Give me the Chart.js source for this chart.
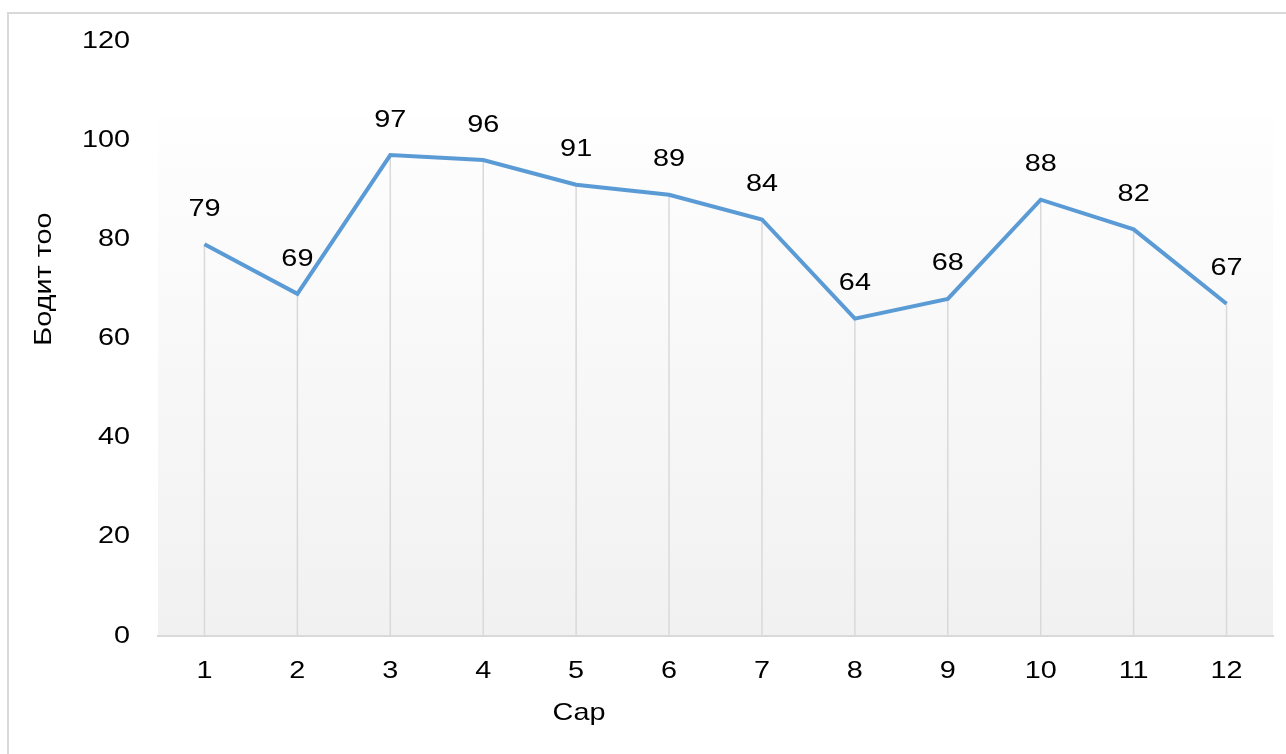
<!DOCTYPE html>
<html>
<head>
<meta charset="utf-8">
<script src="https://cdn.jsdelivr.net/npm/chart.js@4/dist/chart.umd.min.js"></script>
<style>
  html, body { margin: 0; padding: 0; background: #fff; overflow: hidden; }
  #frame { position: absolute; left: 7px; top: 12px; width: 1400px; height: 900px;
           border: 2px solid #d9d9d9; box-sizing: border-box; }
  canvas { position: absolute; left: 0; top: 0; }
</style>
</head>
<body>
<div id="frame"></div>
<canvas id="c" width="1286" height="754"></canvas>
<script>
const categories = ['1','2','3','4','5','6','7','8','9','10','11','12'];
const values = [79, 69, 97, 96, 91, 89, 84, 64, 68, 88, 82, 67];
const yTicks = [0, 20, 40, 60, 80, 100, 120];
const xTitle = 'Сар';
const yTitle = 'Бодит тоо';

const FONT = '"Liberation Sans", Arial, sans-serif';
const FS = 24;
const STRETCH = 1.2;

function stretchedText(ctx, text, x, y, align, angle) {
  ctx.save();
  ctx.translate(x, y);
  if (angle) ctx.rotate(angle);
  ctx.scale(STRETCH, 1);
  ctx.font = FS + 'px ' + FONT;
  ctx.fillStyle = '#000';
  ctx.textAlign = align;
  ctx.textBaseline = 'middle';
  ctx.fillText(text, 0, 0);
  ctx.restore();
}

const bgPlugin = {
  id: 'bg',
  beforeDraw(chart) {
    const a = chart.chartArea, ctx = chart.ctx;
    const top = a.top + 77;
    const g = ctx.createLinearGradient(0, top, 0, a.bottom);
    g.addColorStop(0, '#fefefe');
    g.addColorStop(1, '#f1f1f1');
    ctx.save();
    ctx.fillStyle = g;
    ctx.fillRect(a.left, top, a.right - a.left, a.bottom - top);
    ctx.restore();
  },
  beforeDatasetsDraw(chart) {
    const a = chart.chartArea, ctx = chart.ctx;
    const meta = chart.getDatasetMeta(0);
    ctx.save();
    ctx.strokeStyle = '#d9d9d9';
    ctx.lineWidth = 1.5;
    meta.data.forEach(p => {
      ctx.beginPath();
      ctx.moveTo(p.x, p.y);
      ctx.lineTo(p.x, a.bottom);
      ctx.stroke();
    });
    ctx.restore();
  },
  afterDatasetsDraw(chart) {
    const ctx = chart.ctx;
    const meta = chart.getDatasetMeta(0);
    meta.data.forEach((p, i) => {
      stretchedText(ctx, String(values[i]), p.x, p.y - 35, 'center');
    });
  },
  afterDraw(chart) {
    const ctx = chart.ctx;
    const xs = chart.scales.x, ys = chart.scales.y;
    ys.ticks.forEach(t => {
      stretchedText(ctx, String(t.value), 130, ys.getPixelForValue(t.value), 'right');
    });
    xs.ticks.forEach((t, i) => {
      stretchedText(ctx, categories[i], xs.getPixelForTick(i), chart.chartArea.bottom + 35, 'center');
    });
    stretchedText(ctx, xTitle, 579, 713, 'center');
    stretchedText(ctx, yTitle, 44, 279, 'center', -Math.PI / 2);
  }
};

new Chart(document.getElementById('c'), {
  type: 'line',
  data: {
    labels: categories,
    datasets: [{
      data: values,
      borderColor: '#5b9bd5',
      borderWidth: 4,
      pointRadius: 0,
      pointHoverRadius: 0,
      tension: 0,
      fill: false
    }]
  },
  options: {
    responsive: false,
    animation: false,
    devicePixelRatio: 1,
    layout: { padding: { top: 41, right: 13, bottom: 0, left: 0 } },
    plugins: { legend: { display: false }, tooltip: { enabled: false } },
    scales: {
      x: {
        type: 'category',
        offset: true,
        grid: { display: false, drawTicks: false },
        border: { display: true, color: '#d9d9d9', width: 2 },
        ticks: { color: 'rgba(0,0,0,0)', font: { family: FONT, size: FS }, padding: 20, maxRotation: 0 },
        afterFit(s) { s.height = 118; }
      },
      y: {
        min: 0, max: 120,
        grid: { display: false, drawTicks: false },
        border: { display: false },
        afterBuildTicks(s) { s.ticks = yTicks.map(v => ({ value: v })); },
        ticks: { color: 'rgba(0,0,0,0)', font: { family: FONT, size: FS }, padding: 26 },
        afterFit(s) { s.width = 158; }
      }
    }
  },
  plugins: [bgPlugin]
});
</script>
</body>
</html>
